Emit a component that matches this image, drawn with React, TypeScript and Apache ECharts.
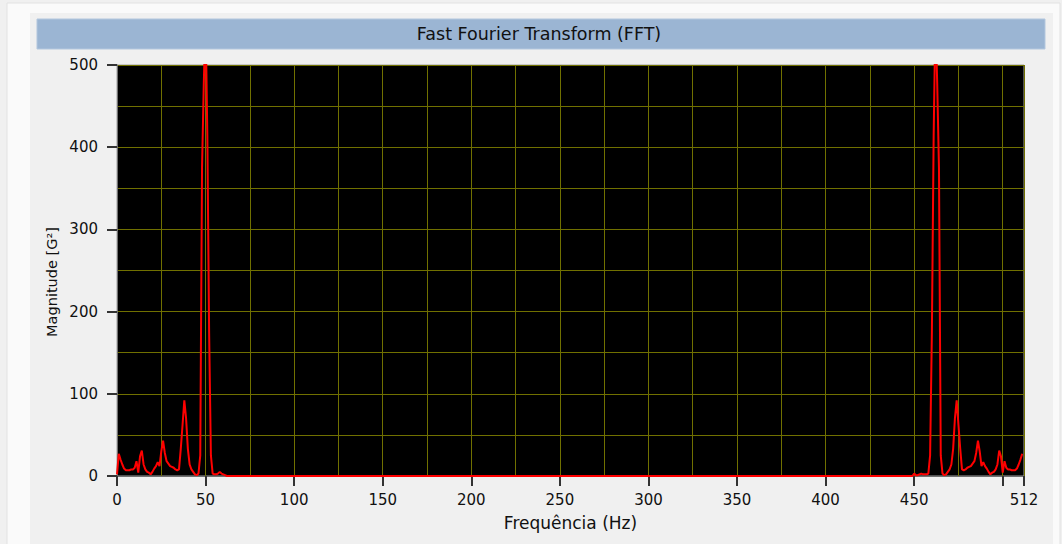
import React, { useEffect, useRef } from "react";
import * as echarts from "echarts";

// FFT magnitude, bins 0..64 (low band)
const lowBand: number[] = [
  2, 27, 20, 14, 9, 7, 7, 7, 8, 8,
  10, 18, 4, 24, 31, 14, 8, 5, 4, 2,
  5, 9, 12, 17, 12, 30, 43, 28, 18, 15,
  12, 11, 10, 8, 7, 8, 33, 62, 92, 70,
  33, 14, 8, 5, 2, 1, 3, 25, 375, 478,
  560, 414, 175, 25, 3, 2, 2, 3, 5, 3,
  2, 1, 0, 0, 0,
];
// FFT magnitude, bins 448..511 (high band, mirrored image)
const highBandStart = 448;
const highBand: number[] = [
  0, 0, 3, 1, 1, 2, 3, 2, 2, 2,
  3, 25, 175, 414, 560, 478, 375, 25, 3, 1,
  2, 5, 8, 14, 33, 70, 92, 62, 33, 8,
  7, 8, 10, 11, 12, 15, 18, 28, 43, 30,
  12, 17, 12, 9, 5, 2, 4, 5, 8, 14,
  31, 24, 4, 18, 10, 8, 8, 7, 7, 7,
  9, 14, 20, 27,
];

const titleText = "Fast Fourier Transform (FFT)";
const xName = "Frequência (Hz)";
const yName = "Magnitude [G²]";
const xMax = 512;
const yMax = 500;

const FONT = "'DejaVu Sans', Verdana, sans-serif";

export default function App() {
  const ref = useRef<HTMLDivElement>(null);

  useEffect(() => {
    if (!ref.current) return;
    const chart = echarts.init(ref.current, undefined, { renderer: "svg" });
    const data: number[][] = [
      ...lowBand.map((v, i) => [i, v]),
      ...highBand.map((v, i) => [highBandStart + i, v]),
    ];
    const gridColor = "#707000";
    const option: any = {
      animation: false,
      backgroundColor: "#f0f0f0",
      textStyle: { fontFamily: FONT },
      graphic: [
        {
          type: "rect",
          z: -10,
          shape: { x: 7, y: 3, width: 1053, height: 545 },
          style: { fill: "#fafafa", stroke: "#e2e2e2", lineWidth: 1 },
        },
        {
          type: "rect",
          z: -9,
          shape: { x: 30, y: 13, width: 1023, height: 535 },
          style: { fill: "#f0f0f0" },
        },
        {
          type: "rect",
          z: -8,
          shape: { x: 37, y: 19, width: 1008, height: 30 },
          style: { fill: "#9bb5d3", stroke: "#b3c7de", lineWidth: 1 },
        },
        {
          type: "text",
          x: 539,
          y: 34,
          style: {
            text: titleText,
            fill: "#111",
            font: `17.5px ${FONT}`,
            align: "center",
            verticalAlign: "middle",
          },
        },
        {
          type: "text",
          x: 52,
          y: 282,
          rotation: Math.PI / 2,
          style: {
            text: yName,
            fill: "#111",
            font: `14.5px ${FONT}`,
            align: "center",
            verticalAlign: "middle",
          },
        },
      ],
      grid: {
        left: 117,
        top: 65,
        right: 38,
        bottom: 68,
        show: true,
        backgroundColor: "#000000",
        borderColor: "#a0a0a0",
        borderWidth: 1,
      },
      xAxis: [
        {
          type: "value",
          min: 0,
          max: xMax,
          interval: 50,
          axisLine: { show: true, onZero: false, lineStyle: { color: "#707070" } },
          axisTick: { show: true, length: 10, lineStyle: { color: "#333", width: 2 } },
          axisLabel: {
            margin: 16,
            fontSize: 15,
            color: "#111",
            formatter: (v: number) => (v === 500 ? "" : String(v)),
          },
          splitLine: { show: false },
          name: xName,
          nameLocation: "middle",
          nameGap: 38,
          nameTextStyle: { fontSize: 17, color: "#111" },
        },
        {
          type: "value",
          min: 0,
          max: xMax,
          interval: 25,
          position: "bottom",
          axisLine: { show: false },
          axisTick: { show: false },
          axisLabel: { show: false },
          splitLine: { show: true, lineStyle: { color: gridColor, width: 1 } },
        },
      ],
      yAxis: [
        {
          type: "value",
          min: 0,
          max: yMax,
          interval: 100,
          axisLine: { show: true, onZero: false, lineStyle: { color: "#707070" } },
          axisTick: { show: true, length: 10, lineStyle: { color: "#333", width: 2 } },
          axisLabel: { margin: 19, fontSize: 15, color: "#111" },
          splitLine: { show: false },
        },
        {
          type: "value",
          min: 0,
          max: yMax,
          interval: 50,
          position: "left",
          axisLine: { show: false },
          axisTick: { show: false },
          axisLabel: { show: false },
          splitLine: { show: true, lineStyle: { color: gridColor, width: 1 } },
        },
      ],
      series: [
        {
          type: "line",
          xAxisIndex: 0,
          yAxisIndex: 0,
          data,
          symbol: "none",
          showSymbol: false,
          clip: true,
          lineStyle: { color: "#ff0000", width: 2 },
          z: 5,
        },
      ],
    };
    chart.setOption(option);
    return () => chart.dispose();
  }, []);

  return (
    <div
      ref={ref}
      style={{ position: "fixed", left: 0, top: 0, width: 1062, height: 544 }}
    />
  );
}
